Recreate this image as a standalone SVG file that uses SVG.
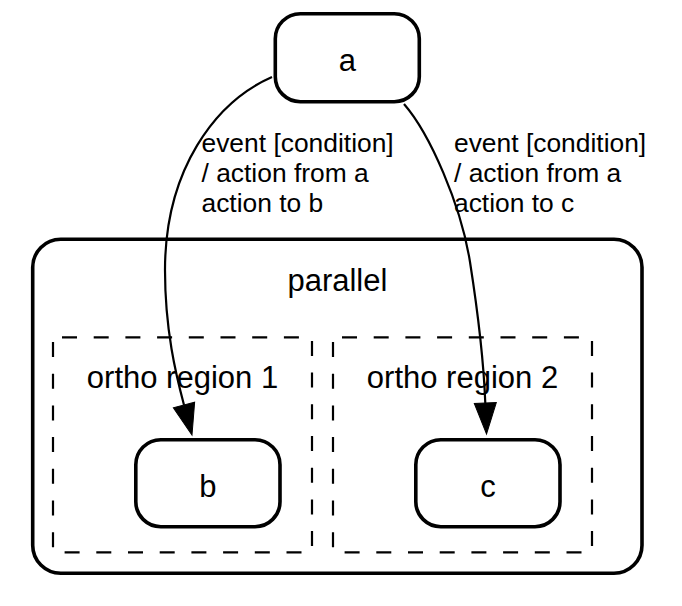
<svg xmlns="http://www.w3.org/2000/svg" width="682" height="606" viewBox="0 0 682 606">
<style>
  .state { fill: #ffffff; stroke: #000000; stroke-width: 3.6; }
  .region { fill: none; stroke: #000000; stroke-width: 2.2; stroke-dasharray: 15 16.7; stroke-dashoffset: 22.7; }
  .nlabel { font-family: "Liberation Sans", Arial, Helvetica, sans-serif; font-size: 31px; fill: #000000; text-anchor: middle; }
  .elabel { font-family: "Liberation Sans", Arial, Helvetica, sans-serif; font-size: 26.4px; fill: #000000; }
  .edge { fill: none; stroke: #000000; stroke-width: 2.2; marker-end: url(#arrow); }
</style>
<defs>
  <marker id="arrow" markerUnits="userSpaceOnUse" markerWidth="34" markerHeight="26" refX="0" refY="0" viewBox="0 -13 34 26" orient="auto" overflow="visible">
    <path d="M0,-11 L31,0 L0,11 Z" fill="#000000" stroke="#000000" stroke-width="1"/>
  </marker>
</defs>
<rect x="0" y="0" width="682" height="606" fill="#ffffff"/>

<g id="parallel">
  <rect class="state" x="32.7" y="239.3" width="609.3" height="334" rx="28" ry="28"/>
  <text class="nlabel" x="337.4" y="291">parallel</text>
</g>

<g id="ortho_region_1">
  <rect class="region" x="53" y="337.3" width="259" height="215"/>
  <text class="nlabel" x="182.5" y="388">ortho region 1</text>
</g>

<g id="ortho_region_2">
  <rect class="region" x="333" y="337.3" width="259" height="215"/>
  <text class="nlabel" x="462.5" y="388">ortho region 2</text>
</g>

<g id="a">
  <rect class="state" x="275.3" y="13.7" width="144" height="88" rx="25" ry="25"/>
  <text class="nlabel" x="347.3" y="71">a</text>
</g>

<g id="b">
  <rect class="state" x="135.8" y="439.7" width="144.2" height="87" rx="25" ry="25"/>
  <text class="nlabel" x="207.9" y="496.5">b</text>
</g>

<g id="c">
  <rect class="state" x="415.8" y="439.7" width="144.2" height="87" rx="25" ry="25"/>
  <text class="nlabel" x="487.9" y="496.5">c</text>
</g>

<g id="connectors">
  <path class="edge" d="M272,77 C215,102 165,170 165,270 C165,330 176,375 184,405"/>
  <path class="edge" d="M404,104 C430,134 461,205 470,262 C478,313 484,370 485.3,403"/>
  <text class="elabel" x="201.5" y="151.7">event [condition]</text>
  <text class="elabel" x="201.5" y="181.7">/ action from a</text>
  <text class="elabel" x="201.5" y="211.7">action to b</text>
  <text class="elabel" x="454" y="151.7">event [condition]</text>
  <text class="elabel" x="454" y="181.7">/ action from a</text>
  <text class="elabel" x="454" y="211.7">action to c</text>
</g>
</svg>
